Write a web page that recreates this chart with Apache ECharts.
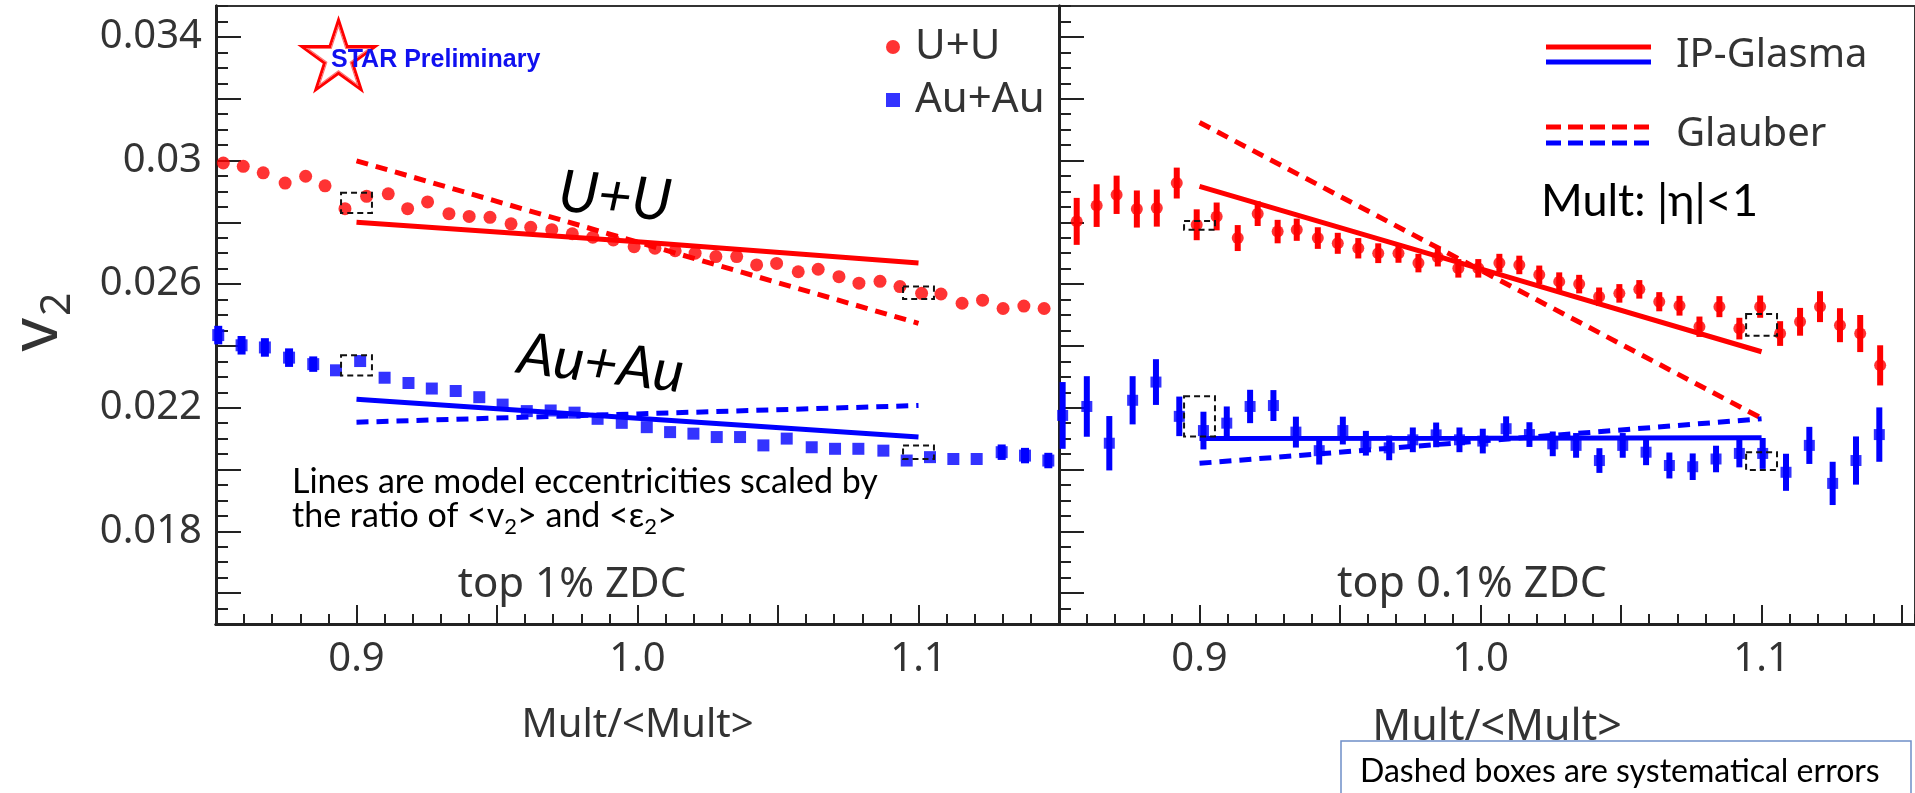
<!DOCTYPE html>
<html>
<head>
<meta charset="utf-8">
<title>v2 vs Mult/&lt;Mult&gt;</title>
<script src="https://cdn.jsdelivr.net/npm/echarts@6.0.0/dist/echarts.min.js"></script>
<style>
  html, body { margin: 0; padding: 0; background: #fff; }
  #v2_chart { width: 1915px; height: 793px; }
</style>
</head>
<body>
<div id="v2_chart"></div>
<script>
// ---- data ----
// top 1% ZDC (left panel)
var uuLeftX = [0.8526, 0.8597, 0.8668, 0.8746, 0.8819, 0.8888, 0.8959, 0.9036, 0.9113, 0.9182, 0.9253,
               0.9329, 0.9401, 0.9475, 0.9550, 0.9620, 0.9695, 0.9768, 0.9841, 0.9914, 0.9988, 1.0062,
               1.0134, 1.0205, 1.0279, 1.0353, 1.0424, 1.0495, 1.0572, 1.0643, 1.0717, 1.0788, 1.0863,
               1.0934, 1.1011, 1.1080, 1.1155, 1.1228, 1.1301, 1.1375, 1.1447];
var uuLeftV = [0.02992, 0.02981, 0.02960, 0.02927, 0.02949, 0.02918, 0.02844, 0.02884, 0.02892, 0.02844, 0.02866,
               0.02828, 0.02819, 0.02816, 0.02795, 0.02784, 0.02776, 0.02763, 0.02752, 0.02743, 0.02721, 0.02716,
               0.02708, 0.02700, 0.02689, 0.02689, 0.02662, 0.02667, 0.02640, 0.02648, 0.02624, 0.02603, 0.02609,
               0.02592, 0.02570, 0.02568, 0.02538, 0.02548, 0.02521, 0.02529, 0.02521];

var auLeftX = [0.8508, 0.8591, 0.8674, 0.8760, 0.8846, 0.8927, 0.9013, 0.9100, 0.9185, 0.9268, 0.9353, 0.9437,
               0.9520, 0.9606, 0.9691, 0.9776, 0.9858, 0.9944, 1.0033, 1.0116, 1.0199, 1.0282, 1.0365, 1.0448,
               1.0531, 1.0620, 1.0703, 1.0786, 1.0875, 1.0958, 1.1041, 1.1124, 1.1207, 1.1296, 1.1379, 1.1462];
var auLeftV = [0.02435, 0.02402, 0.02395, 0.02362, 0.02341, 0.02321, 0.02351, 0.02297, 0.02280, 0.02262, 0.02254, 0.02234,
               0.02210, 0.02189, 0.02191, 0.02184, 0.02164, 0.02151, 0.02137, 0.02121, 0.02116, 0.02105, 0.02105, 0.02078,
               0.02100, 0.02072, 0.02067, 0.02067, 0.02061, 0.02029, 0.02040, 0.02034, 0.02034, 0.02056, 0.02045, 0.02029];
var auLeftErr = [0.0003, 0.0003, 0.0003, 0.0003, 0.00025, 0, 0, 0, 0, 0, 0, 0,
                 0, 0, 0, 0, 0, 0, 0, 0, 0, 0, 0, 0,
                 0, 0, 0, 0, 0, 0, 0, 0, 0, 0.00025, 0.00025, 0.00025];

// top 0.1% ZDC (right panel)
var uuRightX = [0.8563, 0.8634, 0.8705, 0.8777, 0.8848, 0.8919, 0.8990, 0.9061, 0.9136, 0.9207, 0.9278,
                0.9346, 0.9421, 0.9492, 0.9565, 0.9636, 0.9708, 0.9779, 0.9848, 0.9921, 0.9992, 1.0067,
                1.0138, 1.0209, 1.0280, 1.0351, 1.0422, 1.0494, 1.0565, 1.0636, 1.0708, 1.0779, 1.0850,
                1.0921, 1.0995, 1.1066, 1.1137, 1.1208, 1.1279, 1.1351, 1.1422];
var uuRightV = [0.02803, 0.02854, 0.02889, 0.02843, 0.02846, 0.02927, 0.02792, 0.02819, 0.02749, 0.02828, 0.02770,
                0.02776, 0.02749, 0.02732, 0.02716, 0.02700, 0.02700, 0.02668, 0.02687, 0.02651, 0.02651, 0.02668,
                0.02662, 0.02630, 0.02608, 0.02600, 0.02559, 0.02570, 0.02583, 0.02543, 0.02530, 0.02462, 0.02527,
                0.02456, 0.02527, 0.02440, 0.02478, 0.02527, 0.02467, 0.02440, 0.02337];
var uuRightErr = [0.00076, 0.00069, 0.00062, 0.0006, 0.0006, 0.0005, 0.0005, 0.00045, 0.00042, 0.0004, 0.00038,
                  0.00036, 0.00035, 0.00034, 0.00033, 0.00032, 0.00031, 0.0003, 0.0003, 0.0003, 0.0003, 0.0003,
                  0.0003, 0.0003, 0.0003, 0.0003, 0.0003, 0.0003, 0.0003, 0.00031, 0.00032, 0.00033, 0.00034,
                  0.00035, 0.00036, 0.0004, 0.00045, 0.0005, 0.00055, 0.0006, 0.00065];

var auRightX = [0.8513, 0.8599, 0.8679, 0.8762, 0.8845, 0.8928, 0.9014, 0.9097, 0.9180, 0.9263, 0.9343, 0.9426,
                0.9510, 0.9592, 0.9675, 0.9759, 0.9842, 0.9925, 1.0008, 1.0091, 1.0174, 1.0257, 1.0340, 1.0423,
                1.0506, 1.0589, 1.0672, 1.0755, 1.0838, 1.0921, 1.1004, 1.1087, 1.1170, 1.1253, 1.1336, 1.1419];
var auRightV = [0.02175, 0.02204, 0.02085, 0.02224, 0.02283, 0.02172, 0.02126, 0.02150, 0.02204, 0.02207, 0.02121, 0.02061,
                0.02126, 0.02085, 0.02070, 0.02096, 0.02112, 0.02096, 0.02092, 0.02132, 0.02113, 0.02083, 0.02078, 0.02029,
                0.02078, 0.02056, 0.02013, 0.02009, 0.02034, 0.02052, 0.02052, 0.01991, 0.02078, 0.01955, 0.02029, 0.02113];
var auRightErr = [0.00108, 0.00098, 0.00088, 0.00078, 0.00074, 0.00064, 0.00061, 0.00054, 0.00054, 0.0005, 0.0005, 0.00045,
                  0.00045, 0.0004, 0.0004, 0.0004, 0.0004, 0.0004, 0.0004, 0.0004, 0.0004, 0.0004, 0.0004, 0.0004,
                  0.0004, 0.00042, 0.00042, 0.00043, 0.00043, 0.00045, 0.0005, 0.0006, 0.0006, 0.0007, 0.00078, 0.00088];

// model eccentricities scaled to v2
var modelX = [0.9, 1.0, 1.1];
var uuGlasmaLeft   = [0.02800, 0.02737, 0.02668];
var uuGlauberLeft  = [0.02999, 0.02736, 0.02473];
var auGlasmaLeft   = [0.02227, 0.02166, 0.02105];
var auGlauberLeft  = [0.02153, 0.02180, 0.02207];
var uuGlasmaRight  = [0.02916, 0.02649, 0.02381];
var uuGlauberRight = [0.03123, 0.02645, 0.02166];
var auGlasmaRight  = [0.02100, 0.02101, 0.02103];
var auGlauberRight = [0.02020, 0.02092, 0.02164];

// systematic error boxes: [x, v, half width, half height]
var sysLeft  = [[0.9, 0.02863, 0.0055, 0.00033], [0.9, 0.02337, 0.0055, 0.00033],
                [1.1, 0.02572, 0.0055, 0.00020], [1.1, 0.02056, 0.0055, 0.00022]];
var sysRight = [[0.9, 0.02790, 0.0055, 0.00014], [0.9, 0.02172, 0.0055, 0.00065],
                [1.1, 0.02468, 0.0055, 0.00035], [1.1, 0.02027, 0.0055, 0.00029]];

var yLabels = [0.018, 0.022, 0.026, 0.03, 0.034];
var yMajorTicks = [0.016, 0.018, 0.02, 0.022, 0.024, 0.026, 0.028, 0.03, 0.032, 0.034];
var xLabels = [0.9, 1.0, 1.1];
var xMajorTicks = [0.85, 0.9, 0.95, 1.0, 1.05, 1.1, 1.15];

var FONT = "'Noto Sans', 'Open Sans', sans-serif";
var CALIBRI = "Lato, 'Open Sans', sans-serif";
var RED = '#ff0000', BLUE = '#0000ff', AXIS = '#222';

function pairs(xs, vs) {
    return xs.map(function (x, i) { return [x, vs[i]]; });
}
function triples(xs, vs, es) {
    return xs.map(function (x, i) { return [x, vs[i], es[i]]; });
}

function errorBars(color, width) {
    return function (params, api) {
        var e = api.value(2);
        if (!e) return null;
        var p1 = api.coord([api.value(0), api.value(1) + e]);
        var p2 = api.coord([api.value(0), api.value(1) - e]);
        return {
            type: 'line',
            shape: { x1: p1[0], y1: p1[1], x2: p2[0], y2: p2[1] },
            style: { stroke: color, lineWidth: width }
        };
    };
}

function sysBox(params, api) {
    var p1 = api.coord([api.value(0) - api.value(2), api.value(1) + api.value(3)]);
    var p2 = api.coord([api.value(0) + api.value(2), api.value(1) - api.value(3)]);
    return {
        type: 'rect',
        shape: { x: p1[0], y: p1[1], width: p2[0] - p1[0], height: p2[1] - p1[1] },
        style: { fill: 'none', stroke: '#111', lineWidth: 2, lineDash: [6, 4] }
    };
}

function xAxes(grid, max, nameSize, namePad) {
    var base = {
        type: 'value', gridIndex: grid, position: 'bottom', min: 0.85, max: max,
        splitLine: { show: false },
        axisLine: { onZero: false, lineStyle: { color: AXIS, width: 3 } }
    };
    return [
        Object.assign({}, base, {
            interval: 0.01,
            axisTick: { inside: true, length: 10, lineStyle: { color: AXIS, width: 2 } },
            axisLabel: { show: false }
        }),
        Object.assign({}, base, {
            axisTick: { inside: true, length: 19, customValues: xMajorTicks, lineStyle: { color: AXIS, width: 2 } },
            axisLabel: {
                customValues: xLabels, margin: 16, fontSize: 40, color: '#333', fontFamily: FONT,
                formatter: function (v) { return v.toFixed(1); }
            },
            name: 'Mult/<Mult>', nameLocation: 'middle', nameGap: 82,
            nameTextStyle: { fontSize: nameSize, color: '#333', fontFamily: FONT, padding: [0, 0, 0, namePad] }
        })
    ];
}

function yAxes(grid, withLabels) {
    var base = {
        type: 'value', gridIndex: grid, position: 'left', min: 0.015, max: 0.035,
        splitLine: { show: false },
        axisLine: { onZero: false, lineStyle: { color: AXIS, width: 3 } }
    };
    return [
        Object.assign({}, base, {
            interval: 0.0005,
            axisTick: { inside: true, length: 12, lineStyle: { color: AXIS, width: 2 } },
            axisLabel: { show: false }
        }),
        Object.assign({}, base, {
            axisTick: { inside: true, length: 25, customValues: yMajorTicks, lineStyle: { color: AXIS, width: 2 } },
            axisLabel: {
                show: withLabels, customValues: yLabels, margin: 14, fontSize: 40, color: '#333', fontFamily: FONT,
                formatter: function (v) { return String(parseFloat(v.toFixed(3))); }
            }
        })
    ];
}

function modelLine(name, ys, color, dashed, xi) {
    return {
        name: name, type: 'line', xAxisIndex: xi, yAxisIndex: xi,
        data: pairs(modelX, ys), symbol: 'none', silent: true, z: 3,
        lineStyle: { color: color, width: 5, type: dashed ? [12, 8] : 'solid' }
    };
}

// star of the STAR logo (outer outline and a thinner inner one)
function starShape(scale) {
    var pts = [];
    for (var k = 0; k < 10; k++) {
        var ang = -Math.PI / 2 + k * Math.PI / 5;
        var rad = (k % 2 ? 14.7 : 38.5) * scale;
        pts.push([338.5 + rad * Math.cos(ang), 58.5 + rad * Math.sin(ang)]);
    }
    return pts;
}

var v2_option = {
    backgroundColor: '#fff',
    animation: false,
    grid: [
        { left: 216, top: 6, width: 843, height: 618, outerBoundsMode: 'none',
          show: true, borderColor: '#333', borderWidth: 2 },
        { left: 1059, top: 6, width: 856, height: 618, outerBoundsMode: 'none',
          show: true, borderColor: '#333', borderWidth: 2 }
    ],
    xAxis: xAxes(0, 1.15, 40, 0).concat(xAxes(1, 1.1546, 43, 20)),
    yAxis: yAxes(0, true).concat(yAxes(1, false)),
    legend: {
        orient: 'vertical', left: 881, top: 20, itemWidth: 14, itemHeight: 14, itemGap: 9,
        selectedMode: false,
        textStyle: { fontSize: 42, lineHeight: 44, color: '#333', fontFamily: FONT, padding: [0, 0, 0, 10] },
        data: [{ name: 'U+U', icon: 'circle' }, { name: 'Au+Au', icon: 'rect' }]
    },
    series: [
        // left panel
        modelLine('IP-Glasma U+U', uuGlasmaLeft, RED, false, 0),
        modelLine('Glauber U+U', uuGlauberLeft, RED, true, 0),
        modelLine('IP-Glasma Au+Au', auGlasmaLeft, BLUE, false, 0),
        modelLine('Glauber Au+Au', auGlauberLeft, BLUE, true, 0),
        {
            name: 'U+U', type: 'scatter', xAxisIndex: 0, yAxisIndex: 0, z: 4,
            data: pairs(uuLeftX, uuLeftV), symbol: 'circle', symbolSize: 13, itemStyle: { color: RED }
        },
        {
            type: 'custom', xAxisIndex: 0, yAxisIndex: 0, z: 4, silent: true,
            data: triples(auLeftX, auLeftV, auLeftErr), renderItem: errorBars(BLUE, 8)
        },
        {
            name: 'Au+Au', type: 'scatter', xAxisIndex: 0, yAxisIndex: 0, z: 4,
            data: pairs(auLeftX, auLeftV), symbol: 'rect', symbolSize: 12, itemStyle: { color: BLUE }
        },
        { type: 'custom', xAxisIndex: 0, yAxisIndex: 0, z: 5, silent: true, data: sysLeft, renderItem: sysBox },

        // right panel
        modelLine('IP-Glasma U+U', uuGlasmaRight, RED, false, 2),
        modelLine('Glauber U+U', uuGlauberRight, RED, true, 2),
        modelLine('IP-Glasma Au+Au', auGlasmaRight, BLUE, false, 2),
        modelLine('Glauber Au+Au', auGlauberRight, BLUE, true, 2),
        {
            type: 'custom', xAxisIndex: 2, yAxisIndex: 2, z: 4, silent: true,
            data: triples(uuRightX, uuRightV, uuRightErr), renderItem: errorBars(RED, 6)
        },
        {
            name: 'U+U', type: 'scatter', xAxisIndex: 2, yAxisIndex: 2, z: 4,
            data: pairs(uuRightX, uuRightV), symbol: 'circle', symbolSize: 12, itemStyle: { color: RED }
        },
        {
            type: 'custom', xAxisIndex: 2, yAxisIndex: 2, z: 4, silent: true,
            data: triples(auRightX, auRightV, auRightErr), renderItem: errorBars(BLUE, 6)
        },
        {
            name: 'Au+Au', type: 'scatter', xAxisIndex: 2, yAxisIndex: 2, z: 4,
            data: pairs(auRightX, auRightV), symbol: 'rect', symbolSize: 11, itemStyle: { color: BLUE }
        },
        { type: 'custom', xAxisIndex: 2, yAxisIndex: 2, z: 5, silent: true, data: sysRight, renderItem: sysBox }
    ],
    graphic: [
        // y axis title v_2
        {
            type: 'text', x: 38, y: 322, rotation: Math.PI / 2,
            style: {
                text: '{v|v}{s|2}', align: 'center', verticalAlign: 'middle',
                rich: {
                    v: { fontSize: 66, fontFamily: FONT, fill: '#333' },
                    s: { fontSize: 41, fontFamily: FONT, fill: '#333', padding: [40, 0, 0, 2] }
                }
            }
        },
        // STAR Preliminary
        { type: 'polygon', shape: { points: starShape(1) }, style: { fill: '#fff', stroke: RED, lineWidth: 3 } },
        { type: 'polygon', shape: { points: starShape(0.84) }, style: { fill: 'none', stroke: '#ff7070', lineWidth: 1.2 } },
        {
            type: 'text', x: 331, y: 60,
            style: { text: 'STAR Preliminary', fill: '#1010f0', fontSize: 25, fontWeight: 'bold',
                     fontFamily: "'Liberation Sans', Arial, sans-serif", verticalAlign: 'middle' }
        },
        // system labels on the data
        {
            type: 'text', x: 615, y: 197, rotation: -0.09,
            style: { text: 'U+U', fill: '#000', fontSize: 58, fontStyle: 'italic', fontFamily: CALIBRI,
                     align: 'center', verticalAlign: 'middle' }
        },
        {
            type: 'text', x: 601, y: 364, rotation: -0.12,
            style: { text: 'Au+Au', fill: '#000', fontSize: 58, fontStyle: 'italic', fontFamily: CALIBRI,
                     align: 'center', verticalAlign: 'middle' }
        },
        // note in left panel
        {
            type: 'text', x: 292, y: 482,
            style: { text: 'Lines are model eccentricities scaled by', fill: '#000', fontSize: 34,
                     fontFamily: CALIBRI, verticalAlign: 'middle' }
        },
        {
            type: 'text', x: 292, y: 516,
            style: {
                text: '{n|the ratio of <v}{s|2}{n|> and <ε}{s|2}{n|>}', verticalAlign: 'middle',
                rich: {
                    n: { fontSize: 34, fontFamily: CALIBRI, fill: '#000' },
                    s: { fontSize: 22, fontFamily: CALIBRI, fill: '#000', padding: [21, 0, 0, 0] }
                }
            }
        },
        {
            type: 'text', x: 572, y: 585,
            style: { text: 'top 1% ZDC', fill: '#333', fontSize: 42, fontFamily: FONT, align: 'center', verticalAlign: 'middle' }
        },
        {
            type: 'text', x: 1472, y: 585,
            style: { text: 'top 0.1% ZDC', fill: '#333', fontSize: 43, fontFamily: FONT, align: 'center', verticalAlign: 'middle' }
        },
        // model legend (right panel)
        { type: 'line', shape: { x1: 1546, y1: 47, x2: 1651, y2: 47 }, style: { stroke: RED, lineWidth: 5 } },
        { type: 'line', shape: { x1: 1546, y1: 62, x2: 1651, y2: 62 }, style: { stroke: BLUE, lineWidth: 5 } },
        {
            type: 'text', x: 1676, y: 56,
            style: { text: 'IP-Glasma', fill: '#333', fontSize: 40, fontFamily: FONT, verticalAlign: 'middle' }
        },
        { type: 'line', shape: { x1: 1546, y1: 127, x2: 1651, y2: 127 }, style: { stroke: RED, lineWidth: 5, lineDash: [15, 7] } },
        { type: 'line', shape: { x1: 1546, y1: 143, x2: 1651, y2: 143 }, style: { stroke: BLUE, lineWidth: 5, lineDash: [15, 7] } },
        {
            type: 'text', x: 1676, y: 135,
            style: { text: 'Glauber', fill: '#333', fontSize: 40, fontFamily: FONT, verticalAlign: 'middle' }
        },
        {
            type: 'text', x: 1541, y: 201,
            style: { text: 'Mult: |η|<1', fill: '#000', fontSize: 45, fontFamily: CALIBRI, verticalAlign: 'middle' }
        },
        // footnote box
        {
            type: 'rect', shape: { x: 1341, y: 741, width: 570, height: 70 },
            style: { fill: '#fff', stroke: '#6f8fc8', lineWidth: 1.5 }
        },
        {
            type: 'text', x: 1360, y: 772,
            style: { text: 'Dashed boxes are systematical errors', fill: '#000', fontSize: 32,
                     fontFamily: CALIBRI, verticalAlign: 'middle' }
        }
    ]
};

var v2_chart = echarts.init(document.getElementById('v2_chart'));
v2_chart.setOption(v2_option);
</script>
</body>
</html>
